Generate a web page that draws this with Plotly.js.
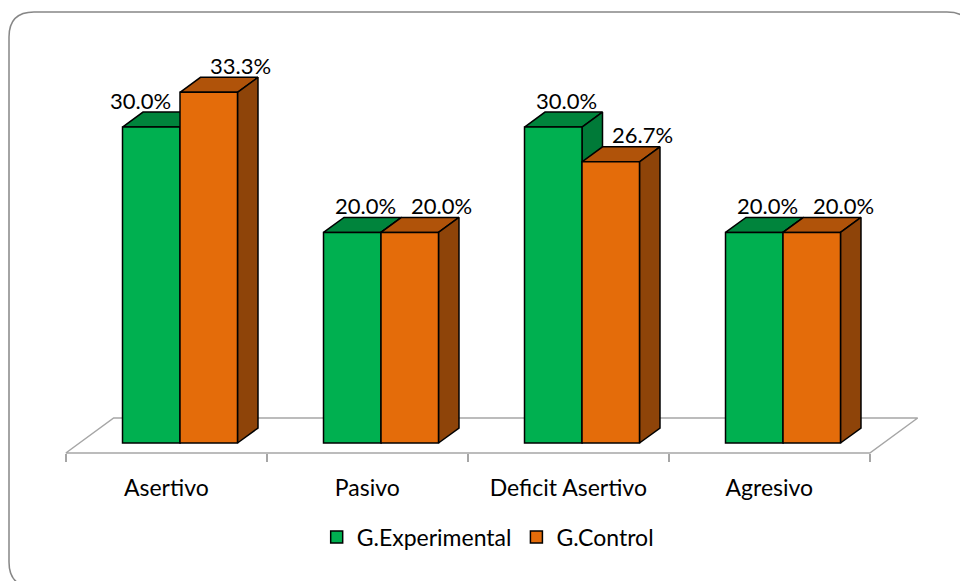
<!DOCTYPE html>
<html>
<head>
<meta charset="utf-8">
<script src="https://cdn.plot.ly/plotly-3.0.1.min.js"></script>
<style>html,body{margin:0;padding:0;background:#fff;}#chart{width:960px;height:581px;}</style>
</head>
<body>
<div id="chart"></div>
<script>
// ---- data ----
const categories = ["Asertivo", "Pasivo", "Deficit Asertivo", "Agresivo"];
const seriesNames = ["G.Experimental", "G.Control"];
const experimental = [30.0, 20.0, 30.0, 20.0];
const control = [33.3, 20.0, 26.7, 20.0];

// ---- geometry (pixel scale of the picture) ----
const W = 960, H = 581;
const S = 201;          // px per category
const X0 = 180;         // px of first category centre at bar front plane
const PXV = 10.53;      // px per percent
const Y0 = 443;         // px of value 0 at bar front plane
const DXZ = 20.5 / S;   // depth shift in x units
const DYZ = 15 / PXV;   // depth shift in y units
const BW = 0.286;       // bar width (category units)
const ZF = -0.667, ZB = 1.667; // floor front/back depth

const xr = [(0 - X0) / S, (W - X0) / S];
const yr = [(Y0 - H) / PXV, Y0 / PXV];

const FONT = "Lato, 'Open Sans', sans-serif";

const colors = {
  exp: {front: "#00B050", top: "#00843C", side: "#007A38"},
  ctl: {front: "#E46C0A", top: "#B0530A", side: "#8E4409"}
};

const traces = [];
const idx = categories.map((c, i) => i);

// floor
const n = categories.length;
const fx = (u, z) => u + DXZ * z;
const fy = (v, z) => v + DYZ * z;
traces.push({
  type: "scatter", mode: "lines", hoverinfo: "skip", showlegend: false,
  x: [fx(-0.5, ZF), fx(n - 0.5, ZF), fx(n - 0.5, ZB), fx(-0.5, ZB), fx(-0.5, ZF)],
  y: [fy(0, ZF), fy(0, ZF), fy(0, ZB), fy(0, ZB), fy(0, ZF)],
  line: {color: "#A6A6A6", width: 1.5}
});

function faces(xl, v, col) {
  const top = {
    type: "scatter", mode: "lines", fill: "toself", fillcolor: col.top, hoverinfo: "skip", showlegend: false,
    x: [xl, xl + BW, xl + BW + DXZ, xl + DXZ, xl],
    y: [v, v, v + DYZ, v + DYZ, v],
    line: {color: "#000", width: 1.5}
  };
  const side = {
    type: "scatter", mode: "lines", fill: "toself", fillcolor: col.side, hoverinfo: "skip", showlegend: false,
    x: [xl + BW, xl + BW, xl + BW + DXZ, xl + BW + DXZ, xl + BW],
    y: [0, v, v + DYZ, DYZ, 0],
    line: {color: "#000", width: 1.5}
  };
  return [top, side];
}

idx.forEach(i => {
  traces.push(...faces(i - BW, experimental[i], colors.exp));
  traces.push(...faces(i, control[i], colors.ctl));
});

// front faces as bars on overlaid axes (drawn above the 3D faces)
traces.push({
  type: "bar", name: seriesNames[0], x: idx, y: experimental, width: BW, offset: -BW,
  xaxis: "x2", yaxis: "y2", hoverinfo: "skip",
  marker: {color: colors.exp.front, line: {color: "#000", width: 1.5}}
});
traces.push({
  type: "bar", name: seriesNames[1], x: idx, y: control, width: BW, offset: 0,
  xaxis: "x2", yaxis: "y2", hoverinfo: "skip",
  marker: {color: colors.ctl.front, line: {color: "#000", width: 1.5}}
});

// data labels
const annotations = [];
const labelFont = {family: FONT, size: 22, color: "#000"};
idx.forEach(i => {
  const ge = experimental[i], gc = control[i];
  annotations.push({
    xref: "x", yref: "y", x: i - BW / 2, y: ge, text: ge.toFixed(1) + "%",
    showarrow: false, xanchor: "center", yanchor: "middle",
    xshift: gc > ge ? -11 : 13, yshift: 27, font: labelFont
  });
  annotations.push({
    xref: "x", yref: "y", x: i + BW / 2, y: gc, text: gc.toFixed(1) + "%",
    showarrow: false, xanchor: "center", yanchor: "middle",
    xshift: 32, yshift: 27, font: labelFont
  });
});

// outer rounded border
const px = v => v / W, py = v => 1 - v / H;
const bl = 9, bt = 12, br = 972, bb = 587, r = 25;
const borderPath =
  `M${px(bl + r)},${py(bt)} L${px(br - r)},${py(bt)} Q${px(br)},${py(bt)} ${px(br)},${py(bt + r)} ` +
  `L${px(br)},${py(bb - r)} Q${px(br)},${py(bb)} ${px(br - r)},${py(bb)} ` +
  `L${px(bl + r)},${py(bb)} Q${px(bl)},${py(bb)} ${px(bl)},${py(bb - r)} ` +
  `L${px(bl)},${py(bt + r)} Q${px(bl)},${py(bt)} ${px(bl + r)},${py(bt)} Z`;

const floorFrontPx = Y0 - PXV * fy(0, ZF);

const layout = {
  width: W, height: H,
  margin: {l: 0, r: 0, t: 0, b: 0, pad: 0},
  paper_bgcolor: "#fff", plot_bgcolor: "rgba(0,0,0,0)",
  showlegend: true, barmode: "overlay",
  font: {family: FONT, color: "#000"},
  xaxis: {
    range: xr, domain: [0, 1], anchor: "free", position: 1 - floorFrontPx / H,
    showgrid: false, zeroline: false, showline: false, fixedrange: true,
    tickmode: "array", tickvals: idx.map(i => fx(i, ZF)), ticktext: categories,
    ticks: "", ticklabelstandoff: 19,
    tickfont: {family: FONT, size: 23, color: "#000"},
    minor: {tickmode: "array", tickvals: idx.concat([n]).map(i => fx(i - 0.5, ZF)),
            ticks: "outside", ticklen: 8, tickwidth: 1.5, tickcolor: "#A6A6A6", showgrid: false}
  },
  yaxis: {range: yr, domain: [0, 1], visible: false, showgrid: false, zeroline: false, fixedrange: true},
  xaxis2: {range: xr, overlaying: "x", visible: false, showgrid: false, zeroline: false},
  yaxis2: {range: yr, overlaying: "y", visible: false, showgrid: false, zeroline: false},
  legend: {
    orientation: "h", x: 0.508, xanchor: "center", y: 1 - 537 / H, yanchor: "middle",
    font: {family: FONT, size: 23, color: "#000"},
    bgcolor: "rgba(0,0,0,0)", itemwidth: 30, traceorder: "normal"
  },
  annotations: annotations,
  shapes: [{type: "path", xref: "paper", yref: "paper", path: borderPath,
            line: {color: "#878787", width: 1.5}, layer: "below"}]
};

Plotly.newPlot("chart", traces, layout, {displayModeBar: false, staticPlot: true});
</script>
</body>
</html>
